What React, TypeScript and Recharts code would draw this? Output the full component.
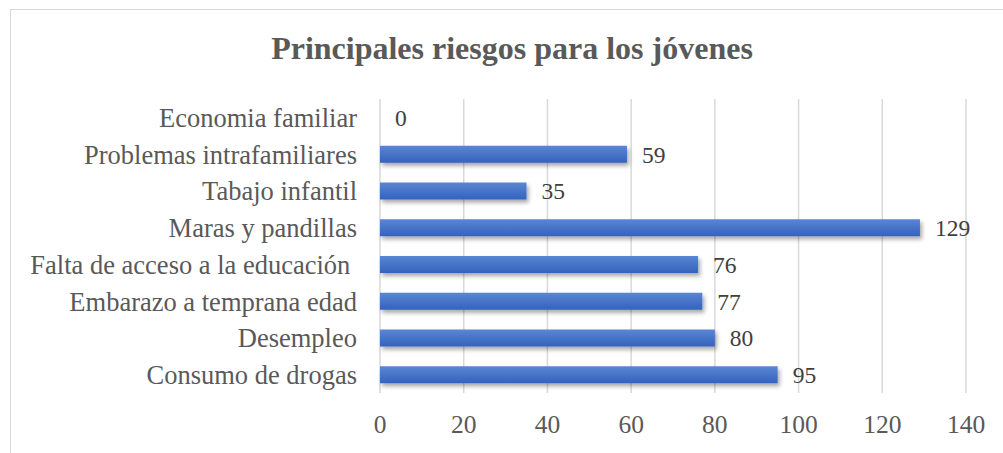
import { BarChart, Bar, XAxis, YAxis, CartesianGrid, LabelList } from "recharts";

const categories = [
  "Economia familiar",
  "Problemas intrafamiliares",
  "Tabajo infantil",
  "Maras y pandillas",
  "Falta de acceso a la educación ",
  "Embarazo a temprana edad",
  "Desempleo",
  "Consumo de drogas",
];
const values = [0, 59, 35, 129, 76, 77, 80, 95];
const xTicks = [0, 20, 40, 60, 80, 100, 120, 140];

const data = categories.map((name, i) => ({ name, value: values[i] }));

const serif = "'Liberation Serif', 'Times New Roman', serif";
const grey = "#595959";

function ShadowBar(props: any) {
  const { x, y, width, height } = props;
  if (!width || width <= 0) return null;
  return (
    <rect
      x={x}
      y={y}
      width={width}
      height={height}
      fill="url(#barGrad)"
      filter="url(#barShadow)"
    />
  );
}

export default function App() {
  return (
    <div
      style={{
        position: "absolute",
        left: 0,
        top: 0,
        width: 1003,
        height: 453,
        overflow: "hidden",
        background: "#fff",
      }}
    >
      <div
        style={{
          position: "absolute",
          left: 10,
          top: 9,
          width: 1010,
          height: 460,
          border: "1px solid #d9d9d9",
        }}
      />
      <div
        style={{
          position: "absolute",
          left: 12,
          top: 32,
          width: 1000,
          textAlign: "center",
          fontFamily: serif,
          fontWeight: 700,
          fontSize: 32,
          lineHeight: "32px",
          color: grey,
        }}
      >
        Principales riesgos para los jóvenes
      </div>
      <div style={{ position: "absolute", left: 0, top: 0 }}>
        <BarChart
          width={1003}
          height={453}
          data={data}
          layout="vertical"
          margin={{ top: 99, right: 37, bottom: 0, left: 0 }}
          barSize={17}
        >
          <defs>
            <linearGradient id="barGrad" x1="0" y1="0" x2="0" y2="1">
              <stop offset="0%" stopColor="#5a86d4" />
              <stop offset="100%" stopColor="#3462bd" />
            </linearGradient>
            <filter id="barShadow" x="-5%" y="-30%" width="110%" height="190%">
              <feDropShadow dx="2" dy="3" stdDeviation="2" floodColor="#000" floodOpacity="0.35" />
            </filter>
          </defs>
          <CartesianGrid horizontal={false} stroke="#d9d9d9" strokeWidth={1.5} />
          <XAxis
            type="number"
            domain={[0, 140]}
            ticks={xTicks}
            interval={0}
            axisLine={false}
            tickLine={false}
            tickSize={0}
            tickMargin={22}
            height={60}
            tick={{ fill: grey, fontSize: 25.5, fontFamily: serif }}
          />
          <YAxis
            type="category"
            dataKey="name"
            width={380}
            interval={0}
            axisLine={false}
            tickLine={false}
            tickSize={0}
            tickMargin={23}
            tick={{ fill: grey, fontSize: 26.5, fontFamily: serif, style: { whiteSpace: "pre" } }}
          />
          <Bar dataKey="value" isAnimationActive={false} shape={ShadowBar}>
            <LabelList
              dataKey="value"
              position="right"
              offset={15}
              fill="#404040"
              fontSize={23.5}
              fontFamily={serif}
            />
          </Bar>
        </BarChart>
      </div>
    </div>
  );
}
